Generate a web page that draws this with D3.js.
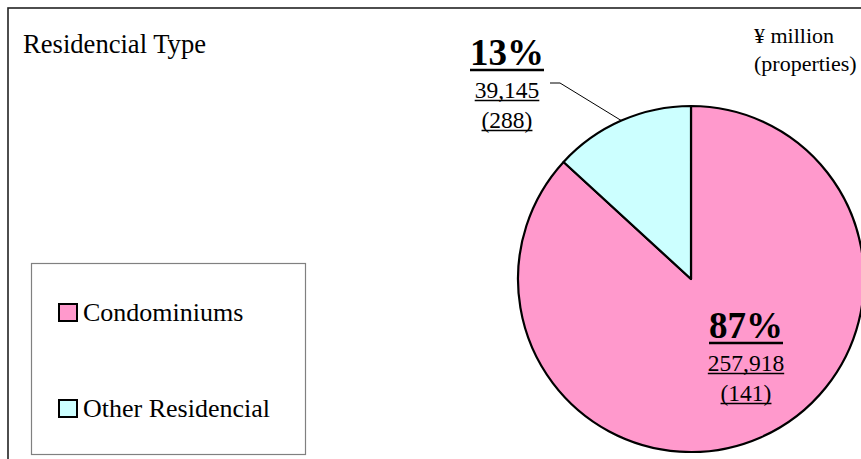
<!DOCTYPE html>
<html>
<head>
<meta charset="utf-8">
<script src="https://cdn.jsdelivr.net/npm/d3@7"></script>
<style>
  html, body { margin: 0; padding: 0; background: #fff; }
  svg { display: block; }
  text { font-family: "Liberation Serif", "Times New Roman", serif; fill: #000; }
</style>
</head>
<body>
<svg id="chart" width="861" height="459"></svg>
<script>
// Residential investment by type (¥ million, number of properties)
const categories = ["Condominiums", "Other Residencial"];
const amounts = [257918, 39145];
const properties = [141, 288];
const colors = ["#FF99CC", "#CCFFFF"];
const title = "Residencial Type";
const unitLines = ["¥ million", "(properties)"];

const svg = d3.select("#chart");
const W = 861, H = 459;

// outer frame (runs off the right and bottom edges)
svg.append("rect")
  .attr("x", 8).attr("y", 8).attr("width", W + 20).attr("height", H + 20)
  .attr("fill", "#fff").attr("stroke", "#222").attr("stroke-width", 1.6);

svg.append("text").attr("x", 23).attr("y", 53)
  .attr("font-size", 26.6).text(title);

svg.selectAll("text.unit").data(unitLines).join("text")
  .attr("class", "unit")
  .attr("x", 754).attr("y", (d, i) => 43 + i * 28)
  .attr("font-size", 22).text(d => d);

// pie
const cx = 691, cy = 279, R = 173;
const data = categories.map((c, i) => ({ cat: c, value: amounts[i], props: properties[i], color: colors[i] }));
const total = d3.sum(amounts);
const pie = d3.pie().sort(null).value(d => d.value);
const arcs = pie(data);
const arc = d3.arc().innerRadius(0).outerRadius(R);

const g = svg.append("g").attr("transform", `translate(${cx},${cy})`);
g.selectAll("path").data(arcs).join("path")
  .attr("d", arc)
  .attr("fill", d => d.data.color)
  .attr("stroke", "#000").attr("stroke-width", 2.2)
  .attr("stroke-linejoin", "round");

const fmt = d3.format(",");
const pct = v => Math.round(v / total * 100) + "%";

// underlined label block: percent (bold), amount, (properties)
function labelBlock(x, y0, d) {
  const lines = [
    { t: pct(d.value), size: 37, bold: true, dy: 0, ul: 5, uw: 2.6 },
    { t: fmt(d.value), size: 23.5, bold: false, dy: 33, ul: 2.5, uw: 1.3 },
    { t: "(" + d.props + ")", size: 23.5, bold: false, dy: 63, ul: 2.5, uw: 1.3 }
  ];
  lines.forEach(l => {
    const tx = svg.append("text")
      .attr("x", x).attr("y", y0 + l.dy)
      .attr("text-anchor", "middle")
      .attr("font-size", l.size)
      .attr("font-weight", l.bold ? "bold" : "normal")
      .text(l.t);
    const w = tx.node().getComputedTextLength();
    svg.append("line")
      .attr("x1", x - w / 2).attr("x2", x + w / 2)
      .attr("y1", y0 + l.dy + l.ul).attr("y2", y0 + l.dy + l.ul)
      .attr("stroke", "#000").attr("stroke-width", l.uw);
  });
}

// Condominiums label inside the slice
labelBlock(746, 338, arcs[0].data);

// Other Residencial label outside with a leader line
labelBlock(507, 65, arcs[1].data);
const mid = (arcs[1].startAngle + arcs[1].endAngle) / 2;
const ex = cx + R * Math.sin(mid), ey = cy - R * Math.cos(mid);
svg.append("path")
  .attr("d", `M550,83 L560,83 L${ex},${ey}`)
  .attr("fill", "none").attr("stroke", "#000").attr("stroke-width", 1);

// legend
const lg = svg.append("g");
lg.append("rect").attr("x", 31.5).attr("y", 263.5).attr("width", 274).attr("height", 191)
  .attr("fill", "#fff").attr("stroke", "#808080").attr("stroke-width", 1.2);
const items = lg.selectAll("g.item").data(data).join("g").attr("class", "item")
  .attr("transform", (d, i) => `translate(0, ${i * 96})`);
items.append("rect").attr("x", 59).attr("y", 304).attr("width", 18).attr("height", 17)
  .attr("fill", d => d.color).attr("stroke", "#000").attr("stroke-width", 2);
items.append("text").attr("x", 83).attr("y", 321).attr("font-size", 26).text(d => d.cat);
</script>
</body>
</html>
